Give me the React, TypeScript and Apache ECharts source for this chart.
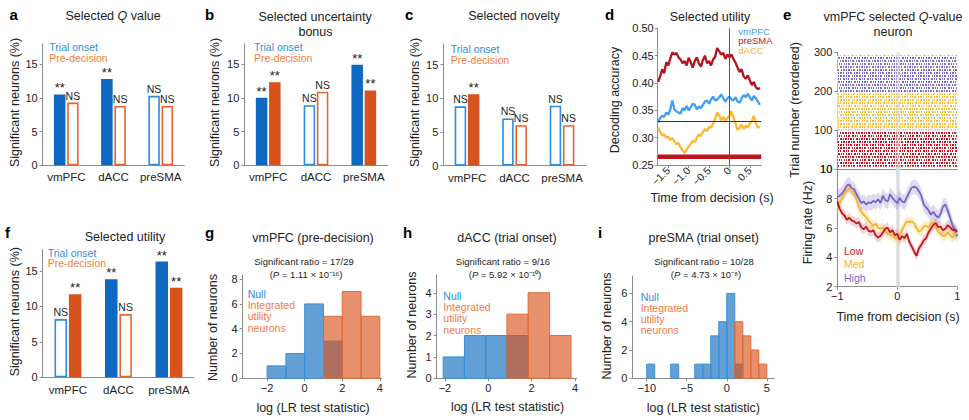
import { useEffect, useRef } from 'react';
import * as echarts from 'echarts';

const FONT = '"Liberation Sans", Arial, Helvetica, sans-serif';
const INK = '#222222';
const AXIS = '#8c8c8c';
const BLUE_FILL = '#0f68c0';
const BLUE_LINE = '#2b8de0';
const BLUE_TEXT = '#2b8fe2';
const ORANGE_FILL = '#d8521d';
const ORANGE_LINE = '#e9642b';
const ORANGE_TEXT = '#f27d3b';

// ---------------- data ----------------
const regions = ['vmPFC', 'dACC', 'preSMA'];
const barYTicks = [0, 5, 10, 15];

const qTrial = [10.5, 12.8, 10.3];
const qPre = [9.3, 8.8, 8.8];
const qTrialSig = ['**', '**', 'NS'];
const qPreSig = ['NS', 'NS', 'NS'];

const ubTrial = [10.0, 8.9, 14.9];
const ubPre = [12.3, 10.9, 11.1];
const ubTrialSig = ['**', 'NS', '**'];
const ubPreSig = ['**', 'NS', '**'];

const novTrial = [8.8, 7.0, 8.9];
const novPre = [10.6, 6.0, 6.0];
const novTrialSig = ['NS', 'NS', 'NS'];
const novPreSig = ['**', 'NS', 'NS'];

const utTrial = [8.2, 13.8, 16.3];
const utPre = [11.7, 8.9, 12.6];
const utTrialSig = ['NS', '**', '**'];
const utPreSig = ['**', 'NS', '**'];

const decTime = [-1.75, -1.7, -1.65, -1.6, -1.55, -1.5, -1.45, -1.4, -1.35, -1.3, -1.25, -1.2, -1.15, -1.1, -1.05, -1, -0.95, -0.9, -0.85, -0.8, -0.75, -0.7, -0.65, -0.6, -0.55, -0.5, -0.45, -0.4, -0.35, -0.3, -0.25, -0.2, -0.15, -0.1, -0.05, 0, 0.05, 0.1, 0.15, 0.2, 0.25, 0.3, 0.35, 0.4, 0.45, 0.5, 0.55, 0.6, 0.65, 0.7, 0.75];
const decPresma = [0.402, 0.412, 0.425, 0.418, 0.438, 0.432, 0.445, 0.456, 0.452, 0.455, 0.447, 0.443, 0.436, 0.44, 0.432, 0.446, 0.438, 0.428, 0.44, 0.447, 0.436, 0.43, 0.442, 0.45, 0.436, 0.44, 0.432, 0.443, 0.448, 0.464, 0.458, 0.452, 0.455, 0.444, 0.452, 0.447, 0.452, 0.444, 0.437, 0.428, 0.42, 0.425, 0.412, 0.408, 0.414, 0.405, 0.396, 0.402, 0.392, 0.389, 0.391];
const decVmpfc = [0.328, 0.336, 0.34, 0.338, 0.346, 0.342, 0.352, 0.368, 0.352, 0.348, 0.346, 0.344, 0.354, 0.35, 0.358, 0.35, 0.356, 0.362, 0.36, 0.352, 0.357, 0.354, 0.36, 0.366, 0.368, 0.362, 0.37, 0.375, 0.368, 0.37, 0.374, 0.379, 0.372, 0.366, 0.372, 0.375, 0.37, 0.368, 0.374, 0.366, 0.364, 0.372, 0.378, 0.374, 0.38, 0.374, 0.368, 0.376, 0.372, 0.366, 0.36];
const decDacc = [0.318, 0.31, 0.304, 0.306, 0.3, 0.302, 0.296, 0.299, 0.293, 0.288, 0.29, 0.282, 0.277, 0.272, 0.278, 0.284, 0.288, 0.294, 0.292, 0.3, 0.306, 0.303, 0.31, 0.316, 0.312, 0.32, 0.318, 0.326, 0.334, 0.346, 0.34, 0.332, 0.338, 0.33, 0.336, 0.34, 0.348, 0.336, 0.326, 0.314, 0.318, 0.324, 0.316, 0.322, 0.318, 0.326, 0.33, 0.34, 0.328, 0.318, 0.32];
const decChance = 1 / 3;
const decSigWindow = [-1.76, 0.78];
const decSigLevel = 0.265;
const decYTicks = [0.25, 0.3, 0.35, 0.4, 0.45, 0.5];
const decXTicks = [-1.5, -1, -0.5, 0, 0.5];

const rasterConds = ['Low', 'Med', 'High'];
const rasterFirstTrial = [5, 99, 196];
const rasterLastTrial = [97, 194, 292];
const rasterYTicks = [100, 200, 300];

const frTime = [-1, -0.96, -0.92, -0.88, -0.84, -0.8, -0.76, -0.72, -0.68, -0.64, -0.6, -0.56, -0.52, -0.48, -0.44, -0.4, -0.36, -0.32, -0.28, -0.24, -0.2, -0.16, -0.12, -0.08, -0.04, 0, 0.04, 0.08, 0.12, 0.16, 0.2, 0.24, 0.28, 0.32, 0.36, 0.4, 0.44, 0.48, 0.52, 0.56, 0.6, 0.64, 0.68, 0.72, 0.76, 0.8, 0.84, 0.88, 0.92, 0.96, 1];
const frLow = [7.8, 7.3, 7.0, 6.85, 6.55, 6.7, 6.5, 6.45, 6.3, 6.4, 6.05, 5.9, 6.1, 5.8, 5.75, 5.85, 5.5, 5.35, 5.45, 5.7, 5.95, 6.0, 5.7, 5.85, 5.5, 5.6, 5.2, 5.45, 5.3, 5.6, 5.05, 4.75, 4.4, 4.1, 4.6, 4.85, 5.15, 5.3, 5.7, 5.95, 6.2, 6.35, 6.05, 6.1, 5.85, 5.95, 6.2, 6.05, 5.85, 5.9, 5.75];
const frMed = [7.25, 7.7, 8.0, 8.35, 8.55, 8.7, 8.6, 8.35, 7.9, 7.4, 7.1, 6.9, 6.75, 6.5, 6.3, 6.15, 6.3, 6.0, 5.95, 6.05, 5.75, 5.6, 5.55, 5.45, 5.3, 5.35, 5.55, 5.85, 6.2, 6.45, 6.4, 6.45, 6.3, 6.0, 5.75, 5.85, 6.1, 6.15, 6.05, 6.3, 6.4, 6.1, 5.75, 5.6, 5.45, 5.5, 5.7, 5.5, 5.35, 5.55, 5.7];
const frHigh = [8.1, 8.2, 8.35, 8.6, 8.9, 8.95, 8.7, 8.65, 8.3, 8.0, 7.7, 7.8, 7.6, 7.75, 7.7, 7.85, 7.75, 7.95, 7.7, 8.2, 7.9, 7.8, 8.3, 8.05, 7.85, 7.7, 8.05, 7.8, 7.75, 8.1, 8.45, 8.75, 8.8, 8.75, 8.5, 8.2, 7.6, 7.4, 7.2, 6.9, 7.1, 6.85, 6.7, 6.95, 7.45, 7.6, 7.2, 6.7, 6.2, 5.8, 5.45];
const frSem = [0.35, 0.35, 0.5];
const frYTicks = [2, 4, 6, 8, 10];
const frXTicks = [-1, 0, 1];

const gNullEdges = [-2, -1, 0, 1, 2];
const gNullCounts = [1, 2, 6, 3];
const gIntEdges = [1, 2, 3, 4];
const gIntCounts = [5, 7, 5];
const gYTicks = [0, 2, 4, 6, 8];
const gXTicks = [-2, 0, 2, 4];

const hNullEdges = [-2.08, -1.1, -0.12, 0.86, 1.84];
const hNullCounts = [1, 2, 2, 2];
const hIntEdges = [0.86, 1.84, 2.83, 3.82];
const hIntCounts = [3, 4, 2];
const hYTicks = [0, 1, 2, 3, 4];
const hXTicks = [-2, 0, 2, 4];

const iNullEdges = [-10, -9, -8, -7, -6, -5, -4, -3, -2, -1, 0, 1, 2];
const iNullCounts = [1, 0, 0, 1, 0, 0, 1, 1, 3, 4, 6, 1];
const iIntEdges = [1, 2, 3, 4, 5];
const iIntCounts = [4, 3, 2, 1];
const iYTicks = [0, 2, 4, 6];
const iXTicks = [-10, -5, 0, 5];

// ---------------- helpers ----------------
const minus = (v: number) => (v < 0 ? '\u2212' + String(Math.abs(v)) : String(v));

const axisLine = { show: true, onZero: false, lineStyle: { color: AXIS, width: 1 } };

function catX(gi: number, margin: number) {
  return {
    type: 'category', gridIndex: gi, data: regions,
    axisLine, axisTick: { show: false },
    axisLabel: { color: INK, fontFamily: FONT, fontSize: 11.5, margin, interval: 0 },
  };
}

function valAxis(gi: number, min: number, max: number, ticks: number[], extra: any = {}) {
  return {
    type: 'value', gridIndex: gi, min, max,
    splitLine: { show: false },
    axisLine,
    axisTick: { show: true, length: 3, lineStyle: { color: AXIS }, customValues: ticks },
    axisLabel: {
      color: INK, fontFamily: FONT, fontSize: 11, formatter: minus, customValues: ticks,
      showMaxLabel: true, showMinLabel: true, hideOverlap: false, ...extra,
    },
  };
}

function barPanel(gi: number, trial: number[], pre: number[], trialSig: string[], preSig: string[], barW: number) {
  const mk = (vals: number[], sigs: string[], fillC: string, lineC: string) =>
    vals.map((v, k) => {
      const on = sigs[k] === '**';
      return {
        value: v,
        itemStyle: { color: on ? fillC : '#ffffff', borderColor: on ? fillC : lineC, borderWidth: 1.6 },
        label: { formatter: sigs[k], fontSize: on ? 13 : 10.5, distance: on ? 0 : 1.5 },
      };
    });
  const common = {
    type: 'bar', xAxisIndex: gi, yAxisIndex: gi, barWidth: barW, barGap: '15%', silent: true,
    label: { show: true, position: 'top', color: INK, fontFamily: FONT },
  };
  return [
    { ...common, name: 'Trial onset', data: mk(trial, trialSig, BLUE_FILL, BLUE_LINE) },
    { ...common, name: 'Pre-decision', data: mk(pre, preSig, ORANGE_FILL, ORANGE_LINE) },
  ];
}

function hist(gi: number, edges: number[], counts: number[], fill: string, stroke: string) {
  return {
    type: 'custom', xAxisIndex: gi, yAxisIndex: gi, silent: true, z: 2,
    data: counts.map((c, k) => [edges[k], edges[k + 1], c]).filter((d) => d[2] > 0),
    encode: { x: [0, 1], y: 2 },
    renderItem: (_p: any, api: any) => {
      const tl = api.coord([api.value(0), api.value(2)]);
      const br = api.coord([api.value(1), 0]);
      return {
        type: 'rect',
        shape: { x: tl[0], y: tl[1], width: br[0] - tl[0], height: br[1] - tl[1] },
        style: { fill, stroke, lineWidth: 1 },
      };
    },
  };
}

const NULL_FILL = 'rgba(31,119,196,0.7)';
const NULL_STROKE = '#3b8fd6';
const INT_FILL = 'rgba(217,84,30,0.65)';
const INT_STROKE = '#e06a36';

const rasterColors = ['#c0161e', '#f8c139', '#7d6cc6'];
const rasterDecal = (color: string) => ({
  symbol: 'rect',
  symbolSize: 1,
  color,
  dashArrayX: [
    [2, 1, 1, 1, 2, 2, 1, 1, 2, 1, 1, 1],
    [1, 1, 2, 2, 1, 1, 2, 1, 1, 2, 1, 1],
    [2, 2, 1, 1, 1, 1, 2, 1, 2, 1, 1, 1],
    [1, 2, 2, 1, 1, 1, 1, 2, 2, 1, 1, 1],
    [2, 1, 1, 2, 2, 1, 1, 1, 1, 2, 1, 1],
    [1, 1, 1, 1, 2, 2, 1, 1, 2, 1, 2, 1],
    [2, 2, 2, 1, 1, 1, 1, 2, 1, 1, 1, 1],
    [1, 1, 2, 1, 1, 2, 2, 1, 1, 1, 2, 1],
  ],
  dashArrayY: [2, 1],
  rotation: 0,
  maxTileWidth: 512,
  maxTileHeight: 512,
});

const frColors = ['#c4161c', '#f6b52d', '#7566c0'];
const frBandColors = ['rgba(205,60,70,0.22)', 'rgba(250,200,80,0.3)', 'rgba(130,110,200,0.26)'];

function T(text: string, x: number, y: number, o: any = {}) {
  const { rot, ...style } = o;
  return {
    type: 'text', x, y, silent: true, rotation: rot ? Math.PI / 2 : 0,
    style: { text, fontFamily: FONT, fontSize: 12.5, fill: INK, align: 'center', verticalAlign: 'middle', ...style },
  };
}
const L = (t: string, x: number, y: number) =>
  T(t, x, y, { align: 'left', fontSize: 15, fontWeight: 'bold', fill: '#000' });
const richIt = (size: number) => ({
  n: { fontSize: size, fontFamily: FONT, fill: INK },
  i: { fontSize: size, fontFamily: FONT, fill: INK, fontStyle: 'italic' },
});

const FR_MAX = 10.6;
const FR_PX_PER_HZ = 14.68;

function buildOption() {
  const frBottom = 286.7;
  const frTop = frBottom - (FR_MAX - frYTicks[0]) * FR_PX_PER_HZ;
  const fr10Y = frBottom - (frYTicks[frYTicks.length - 1] - frYTicks[0]) * FR_PX_PER_HZ;
  const grids = [
    { left: 42.7, top: 43.8, width: 141.6, height: 121.5 },
    { left: 244.3, top: 43.8, width: 143.4, height: 121.5 },
    { left: 443.3, top: 44.3, width: 142.5, height: 121.4 },
    { left: 657.7, top: 28.3, width: 103.5, height: 136.7 },
    { left: 837.3, top: 52.3, width: 120, height: 116.5 },
    { left: 837.3, top: frTop, width: 120, height: frBottom - frTop },
    { left: 42.7, top: 249.5, width: 151.5, height: 127.8 },
    { left: 242.7, top: 275, width: 139, height: 103.3 },
    { left: 436.7, top: 275, width: 140, height: 103.3 },
    { left: 632.3, top: 276, width: 141.7, height: 102.3 },
  ].map((g) => ({ ...g, containLabel: false, outerBoundsMode: 'none' }));

  const xAxis: any[] = [
    catX(0, 6),
    catX(1, 6),
    catX(2, 6),
    valAxis(3, -1.76, 0.78, decXTicks, {
      rotate: 45, fontSize: 10.5, margin: 4,
      formatter: (v: number) => (v === 0 ? '0' : minus(Number(v.toFixed(1))).replace(/^(\u2212?\d)$/, '$1.0')),
    }),
    { type: 'category', gridIndex: 4, data: ['trials'], axisLine, axisTick: { show: false }, axisLabel: { show: false } },
    valAxis(5, -1, 1, frXTicks, { margin: 4 }),
    catX(6, 7),
    valAxis(7, -3.3, 4.1, gXTicks, { margin: 4 }),
    valAxis(8, -2.38, 4.08, hXTicks, { margin: 4 }),
    valAxis(9, -11.8, 5.9, iXTicks, { margin: 4 }),
  ];
  const yAxis: any[] = [
    valAxis(0, 0, 18, barYTicks, { margin: 5 }),
    valAxis(1, 0, 18, barYTicks, { margin: 5 }),
    valAxis(2, 0, 18, barYTicks, { margin: 5 }),
    valAxis(3, 0.25, 0.5, decYTicks, { margin: 4, formatter: (v: number) => v.toFixed(2) }),
    valAxis(4, 0, 300, rasterYTicks, { margin: 5 }),
    valAxis(5, frYTicks[0], FR_MAX, frYTicks, { margin: 5 }),
    valAxis(6, 0, 18, barYTicks, { margin: 5 }),
    valAxis(7, 0, 8.33, gYTicks, { margin: 5 }),
    valAxis(8, 0, 4.83, hYTicks, { margin: 5 }),
    valAxis(9, 0, 7.23, iYTicks, { margin: 5 }),
  ];

  const series: any[] = [];
  series.push(...barPanel(0, qTrial, qPre, qTrialSig, qPreSig, 11.5));
  series.push(...barPanel(1, ubTrial, ubPre, ubTrialSig, ubPreSig, 11.5));
  series.push(...barPanel(2, novTrial, novPre, novTrialSig, novPreSig, 11.5));
  series.push(...barPanel(6, utTrial, utPre, utTrialSig, utPreSig, 12.5));

  // panel d
  const decLine = (vals: number[], color: string, name: string, extra: any = {}) => ({
    type: 'line', name, xAxisIndex: 3, yAxisIndex: 3, silent: true, z: 3,
    data: decTime.map((t, k) => [t, vals[k]]),
    symbol: 'none', lineStyle: { color, width: 2.3 }, ...extra,
  });
  series.push(
    decLine(decDacc, '#f9b934', 'dACC', {
      markLine: {
        silent: true, symbol: ['none', 'none'], label: { show: false }, z: 4,
        data: [
          { yAxis: decChance, lineStyle: { color: '#333', width: 1.2, type: 'solid' } },
          { xAxis: 0, lineStyle: { color: '#555', width: 1, type: 'solid' } },
        ],
      },
    }),
    decLine(decVmpfc, '#3ea0f0', 'vmPFC'),
    decLine(decPresma, '#b5121b', 'preSMA'),
    {
      type: 'line', xAxisIndex: 3, yAxisIndex: 3, silent: true, z: 2, symbol: 'none',
      data: decSigWindow.map((t) => [t, decSigLevel]),
      lineStyle: { color: '#c0141c', width: 4.5 },
    },
  );

  // panel e raster
  let prev = 0;
  rasterConds.forEach((c, k) => {
    series.push({
      type: 'bar', xAxisIndex: 4, yAxisIndex: 4, stack: 'raster', barWidth: '100%', silent: true,
      data: [rasterFirstTrial[k] - prev], itemStyle: { color: 'rgba(0,0,0,0)' },
      ...(k === 0
        ? {
            markLine: {
              silent: true, symbol: ['none', 'none'], label: { show: false }, z: 5,
              data: [{ xAxis: 0 }], lineStyle: { color: '#d6d6d6', width: 3.5, type: 'solid', opacity: 0.6 },
            },
          }
        : {}),
    });
    series.push({
      type: 'bar', name: c, xAxisIndex: 4, yAxisIndex: 4, stack: 'raster', barWidth: '100%', silent: true,
      data: [rasterLastTrial[k] - rasterFirstTrial[k]],
      itemStyle: { color: '#ffffff', decal: rasterDecal(rasterColors[k]) },
    });
    prev = rasterLastTrial[k];
  });

  // panel e firing rate
  const frSets = [frLow, frMed, frHigh];
  frSets.forEach((vals, k) => {
    series.push({
      type: 'custom', xAxisIndex: 5, yAxisIndex: 5, silent: true, z: 1,
      data: [[frTime[0], vals[0]]],
      renderItem: (_p: any, api: any) => {
        const up = frTime.map((t, j) => api.coord([t, vals[j] + frSem[k]]));
        const lo = frTime.map((t, j) => api.coord([t, vals[j] - frSem[k]])).reverse();
        return { type: 'polygon', shape: { points: up.concat(lo) }, style: { fill: frBandColors[k] } };
      },
      ...(k === 0
        ? {
            markLine: {
              silent: true, symbol: ['none', 'none'], label: { show: false }, z: 1,
              data: [{ xAxis: 0 }], lineStyle: { color: '#dcdcdc', width: 3.5, type: 'solid' },
            },
          }
        : {}),
    });
  });
  [2, 1, 0].forEach((k) => {
    series.push({
      type: 'line', name: rasterConds[k], xAxisIndex: 5, yAxisIndex: 5, silent: true, z: 3,
      symbol: 'none', data: frTime.map((t, j) => [t, frSets[k][j]]),
      lineStyle: { color: frColors[k], width: 1.8 },
    });
  });

  // histograms
  series.push(hist(7, gNullEdges, gNullCounts, NULL_FILL, NULL_STROKE));
  series.push(hist(7, gIntEdges, gIntCounts, INT_FILL, INT_STROKE));
  series.push(hist(8, hNullEdges, hNullCounts, NULL_FILL, NULL_STROKE));
  series.push(hist(8, hIntEdges, hIntCounts, INT_FILL, INT_STROKE));
  series.push(hist(9, iNullEdges, iNullCounts, NULL_FILL, NULL_STROKE));
  series.push(hist(9, iIntEdges, iIntCounts, INT_FILL, INT_STROKE));

  const leg = (t: string, x: number, y: number, fill: string, size = 10.5) =>
    T(t, x, y, { align: 'left', fontSize: size, fill });

  const graphic: any[] = [
    L('a', 9.5, 14.2), L('b', 205, 14.2), L('c', 405, 14.2), L('d', 605, 14.2), L('e', 783, 14.2),
    L('f', 5, 232.8), L('g', 205, 232.8), L('h', 403, 232.8), L('i', 598, 232.8),

    T('{n|Selected }{i|Q}{n| value}', 113, 16.3, { rich: richIt(12.5) }),
    T('Selected uncertainty', 315, 16.5),
    T('bonus', 315.5, 31.5),
    T('Selected novelty', 514, 16.3),
    T('Selected utility', 710, 16.5),
    T('{n|vmPFC selected }{i|Q}{n|-value}', 893, 16.5, { rich: richIt(12.5) }),
    T('neuron', 893, 32),
    T('Selected utility', 125, 236.5),
    T('vmPFC (pre-decision)', 313, 238),
    T('dACC (trial onset)', 507, 238),
    T('preSMA (trial onset)', 703.7, 238),

    leg('Trial onset', 49.3, 47, BLUE_TEXT), leg('Pre-decision', 49.3, 57.5, ORANGE_TEXT),
    leg('Trial onset', 254, 47.3, BLUE_TEXT), leg('Pre-decision', 254, 57.5, ORANGE_TEXT),
    leg('Trial onset', 450.7, 49.3, BLUE_TEXT), leg('Pre-decision', 450.7, 60, ORANGE_TEXT),
    leg('Trial onset', 47.7, 252.7, BLUE_TEXT), leg('Pre-decision', 47.7, 263, ORANGE_TEXT),

    leg('vmPFC', 738.3, 31, '#3ea0f0', 9.5), leg('preSMA', 738.3, 40.6, '#c0141c', 9.5), leg('dACC', 738.3, 50.2, '#f5b52e', 9.5),
    leg('Low', 844, 250.6, '#c4161c'), leg('Med', 844, 264.3, '#f6b52d'), leg('High', 844, 277.8, '#7566c0'),

    leg('Null', 247.7, 293.8, '#2f8ad8'), leg('Integrated', 247.7, 304.8, '#ef7a3f'), leg('utility', 247.7, 316.2, '#ef7a3f'), leg('neurons', 247.7, 327.8, '#ef7a3f'),
    leg('Null', 443.3, 296.3, '#2f8ad8'), leg('Integrated', 443.3, 307, '#ef7a3f'), leg('utility', 443.3, 318.3, '#ef7a3f'), leg('neurons', 443.3, 329.5, '#ef7a3f'),
    leg('Null', 640.7, 297, '#2f8ad8'), leg('Integrated', 640.7, 307.5, '#ef7a3f'), leg('utility', 640.7, 318.8, '#ef7a3f'), leg('neurons', 640.7, 330.2, '#ef7a3f'),

    T('Significant ratio = 17/29', 304, 261.5, { fontSize: 9.5 }),
    T('{n|(}{i|P}{n| = 1.11 \u00d7 10\u207b\u00b9\u2076)}', 306, 274.8, { rich: richIt(9.5) }),
    T('Significant ratio = 9/16', 503, 261.5, { fontSize: 9.5 }),
    T('{n|(}{i|P}{n| = 5.92 \u00d7 10\u207b\u00b9\u2070)}', 505, 274.8, { rich: richIt(9.5) }),
    T('Significant ratio = 10/28', 704, 261.5, { fontSize: 9.5 }),
    T('{n|(}{i|P}{n| = 4.73 \u00d7 10\u207b\u2078)}', 706, 274.8, { rich: richIt(9.5) }),

    // top firing-rate tick label (the axis hides it where it meets the raster panel)
    T(String(frYTicks[frYTicks.length - 1]), 832.3, fr10Y, { align: 'right', fontSize: 11 }),

    T('Significant neurons (%)', 15, 102.5, { rot: true }),
    T('Significant neurons (%)', 215, 102.5, { rot: true }),
    T('Significant neurons (%)', 415, 102.5, { rot: true }),
    T('Decoding accuracy', 615, 100, { rot: true }),
    T('Trial number (reordered)', 795, 110, { rot: true }),
    T('Firing rate (Hz)', 807.5, 222.5, { rot: true }),
    T('Significant neurons (%)', 15, 311.7, { rot: true }),
    T('Number of neurons', 213, 327.5, { rot: true }),
    T('Number of neurons', 411.7, 325, { rot: true }),
    T('Number of neurons', 606.7, 326, { rot: true }),

    T('Time from decision (s)', 712, 198),
    T('Time from decision (s)', 898, 316.7),
    T('log (LR test statistic)', 313, 408),
    T('log (LR test statistic)', 507.5, 407.3),
    T('log (LR test statistic)', 703.3, 407.5),
  ];

  return {
    animation: false,
    backgroundColor: '#ffffff',
    textStyle: { fontFamily: FONT },
    grid: grids,
    xAxis,
    yAxis,
    series,
    graphic,
  };
}

export default function App() {
  const ref = useRef<HTMLDivElement>(null);
  useEffect(() => {
    const chart = echarts.init(ref.current as HTMLDivElement, undefined, { renderer: 'svg', width: 969, height: 420 });
    chart.setOption(buildOption() as any);
    return () => chart.dispose();
  }, []);
  return (
    <div
      ref={ref}
      style={{ position: 'absolute', left: 0, top: 0, width: 969, height: 420, background: '#ffffff' }}
    />
  );
}
